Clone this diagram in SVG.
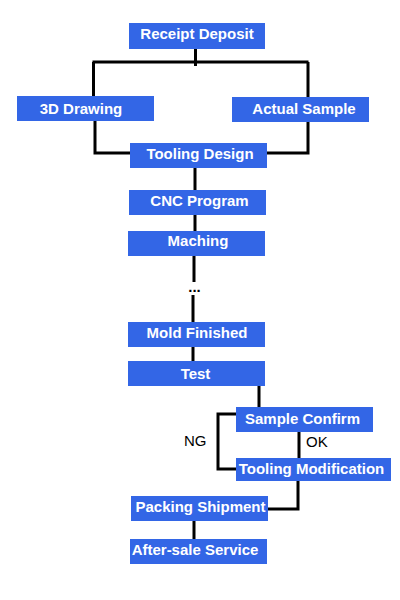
<svg xmlns="http://www.w3.org/2000/svg" width="400" height="600" viewBox="0 0 400 600">
<style>
.box{fill:#3366E6}
.t{font-family:"Liberation Sans",Arial,sans-serif;font-weight:bold;font-size:15px;fill:#fff;text-anchor:middle}
.lbl{font-family:"Liberation Sans",Arial,sans-serif;font-size:15px;fill:#000}
.c{fill:none;stroke:#000;stroke-width:3}
</style>
<rect width="400" height="600" fill="#fff"/>
<g id="connectors">
<path class="c" d="M195.5 49V66M92.5 62H308.5M93.5 62V97M308 62V97"/>
<path class="c" d="M95 121V153H130M308 122V153H267"/>
<path class="c" d="M195 168V190M195 215V231M194 256V282M193 295V322M193 347V361"/>
<path class="c" d="M259 386V407M238 414H218V469H237M299 432V459M298 481V509H267M194 521V539"/>
</g>
<g id="receipt-deposit"><rect class="box" x="129" y="23" width="136" height="26"/><text class="t" x="197" y="39">Receipt Deposit</text></g>
<g id="3d-drawing"><rect class="box" x="17" y="96" width="137" height="25"/><text class="t" x="81" y="114">3D Drawing</text></g>
<g id="actual-sample"><rect class="box" x="232" y="97" width="137" height="25"/><text class="t" x="304" y="114">Actual Sample</text></g>
<g id="tooling-design"><rect class="box" x="130" y="143" width="137" height="25"/><text class="t" x="200" y="159">Tooling Design</text></g>
<g id="cnc-program"><rect class="box" x="129" y="190" width="137" height="25"/><text class="t" x="199.5" y="206">CNC Program</text></g>
<g id="maching"><rect class="box" x="128" y="231" width="137" height="25"/><text class="t" x="198" y="246">Maching</text></g>
<g id="ellipsis"><text class="lbl" x="194.5" y="292" text-anchor="middle" font-size="12" font-weight="bold">...</text></g>
<g id="mold-finished"><rect class="box" x="128" y="322" width="137" height="25"/><text class="t" x="197" y="338">Mold Finished</text></g>
<g id="test"><rect class="box" x="128" y="361" width="137" height="25"/><text class="t" x="195.5" y="379">Test</text></g>
<g id="sample-confirm"><rect class="box" x="236" y="407" width="137" height="25"/><text class="t" x="302.5" y="424">Sample Confirm</text></g>
<g id="ng-label"><text class="lbl" x="184" y="446">NG</text></g>
<g id="ok-label"><text class="lbl" x="306" y="447">OK</text></g>
<g id="tooling-modification"><rect class="box" x="236" y="458" width="155" height="23"/><text class="t" x="311.5" y="474">Tooling Modification</text></g>
<g id="packing-shipment"><rect class="box" x="131" y="496" width="137" height="25"/><text class="t" x="200.5" y="512">Packing Shipment</text></g>
<g id="after-sale-service"><rect class="box" x="130" y="539" width="137" height="25"/><text class="t" x="195" y="555">After-sale Service</text></g>
</svg>
